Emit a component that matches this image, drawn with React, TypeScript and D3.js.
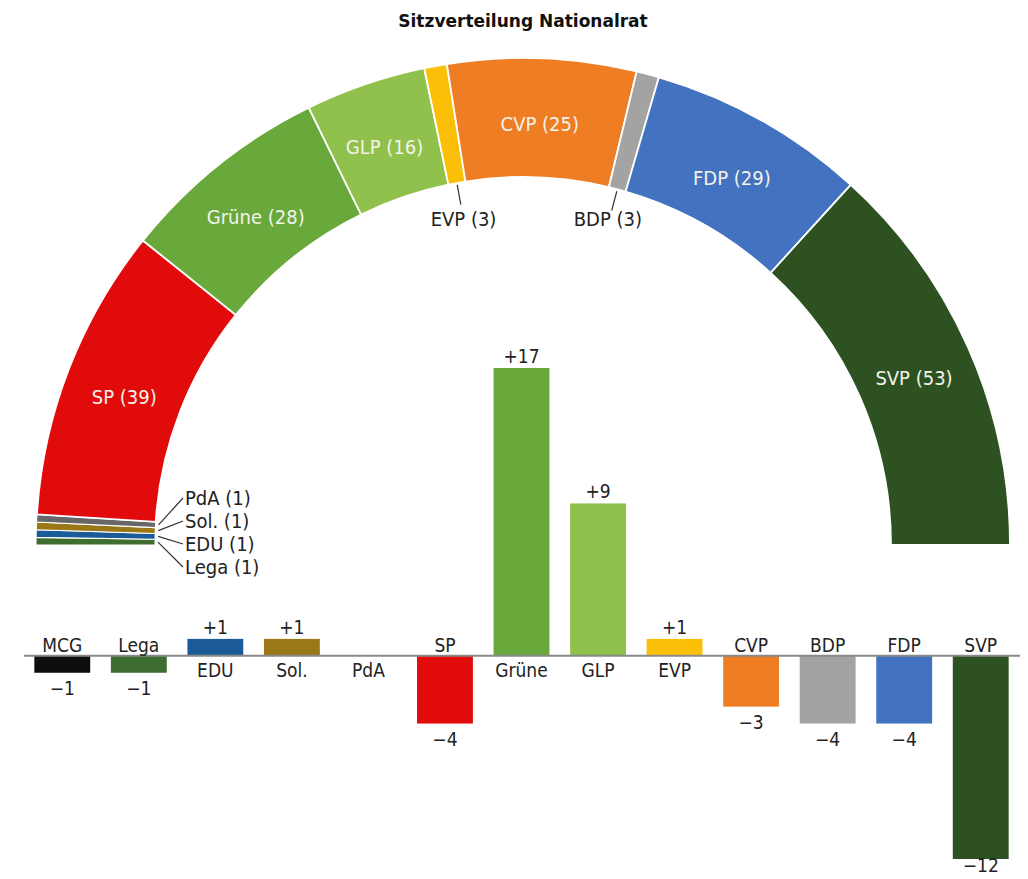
import React from 'react';
import * as d3 from 'd3';

// seat distribution, left to right around the half circle
const seatParties = ['Lega', 'EDU', 'Sol.', 'PdA', 'SP', 'Grüne', 'GLP', 'EVP', 'CVP', 'BDP', 'FDP', 'SVP'];
const seats = [1, 1, 1, 1, 39, 28, 16, 3, 25, 3, 29, 53];

// change in seats vs. previous election
const changeParties = ['MCG', 'Lega', 'EDU', 'Sol.', 'PdA', 'SP', 'Grüne', 'GLP', 'EVP', 'CVP', 'BDP', 'FDP', 'SVP'];
const changes = [-1, -1, 1, 1, 0, -4, 17, 9, 1, -3, -4, -4, -12];

const partyColors: Record<string, string> = {
  MCG: '#0e0e0e',
  Lega: '#3e6e2f',
  EDU: '#1b5c98',
  'Sol.': '#9a7818',
  PdA: '#676767',
  SP: '#e20b0c',
  'Grüne': '#69a93c',
  GLP: '#90c14c',
  EVP: '#fcbf08',
  CVP: '#ef7d24',
  BDP: '#a3a3a3',
  FDP: '#4372c0',
  SVP: '#2e5122',
};

const W = 1028;
const H = 879;
const cx = 523;
const cy = 545;
const outerR = 487;
const innerR = 368;
const font = "'Liberation Sans Narrow', 'DejaVu Sans Condensed', 'Arial Narrow', sans-serif";

const fmt = (v: number) => (v > 0 ? `+${v}` : v < 0 ? `\u2212${Math.abs(v)}` : '');

export default function App() {
  const data = seatParties.map((p, i) => ({ party: p, seats: seats[i] }));
  const pie = d3
    .pie<{ party: string; seats: number }>()
    .value((d) => d.seats)
    .sort(null)
    .startAngle(-Math.PI / 2)
    .endAngle(Math.PI / 2);
  const arcs = pie(data);
  const arc = d3
    .arc<d3.PieArcDatum<{ party: string; seats: number }>>()
    .innerRadius(innerR)
    .outerRadius(outerR);

  const mid = (a: d3.PieArcDatum<any>) => (a.startAngle + a.endAngle) / 2;
  const polar = (ang: number, r: number): [number, number] => [Math.sin(ang) * r, -Math.cos(ang) * r];

  // bar chart scales
  const x = d3.scaleBand<string>().domain(changeParties).range([24, 1019]).paddingInner(0.27).paddingOuter(0.135);
  const y = d3.scaleLinear().domain([-12, 17]).range([859, 368]);
  const y0 = y(0);

  const leftSmall = arcs.filter((a) => a.data.seats === 1);
  const midSmall = arcs.filter((a) => a.data.seats > 1 && a.data.seats < 10);
  const stackTop = 498;

  return (
    <svg width={W} height={H} style={{ position: 'absolute', left: 0, top: 0, background: '#fff' }}>
      <text x={cx} y={27} textAnchor="middle" fontFamily="'DejaVu Sans', sans-serif" fontWeight="bold" fontSize={17} fill="#111">
        Sitzverteilung Nationalrat
      </text>

      <g transform={`translate(${cx},${cy})`}>
        {arcs.map((a) => (
          <path
            key={a.data.party}
            d={arc(a) || ''}
            fill={partyColors[a.data.party]}
            stroke="#fff"
            strokeWidth={a.data.seats === 1 ? 1.1 : 1.8}
          />
        ))}
        {arcs
          .filter((a) => a.data.seats >= 10)
          .map((a) => {
            const [lx, ly] = arc.centroid(a);
            return (
              <text key={a.data.party} x={lx} y={ly + 6} textAnchor="middle" dominantBaseline="central" fontFamily={font} fontSize={20} fill="#f3f3ea">
                {`${a.data.party} (${a.data.seats})`}
              </text>
            );
          })}
        {midSmall.map((a) => {
          const m = mid(a);
          const [x1, y1] = polar(m, innerR - 2);
          const [x2, y2] = polar(m, innerR - 22);
          const [tx] = polar(m, innerR - 37);
          return (
            <g key={a.data.party}>
              <line x1={x1} y1={y1} x2={x2} y2={y2} stroke="#333" strokeWidth={1.2} />
              <text x={tx} y={219 - cy} textAnchor="middle" dominantBaseline="central" fontFamily={font} fontSize={20} fill="#222">
                {`${a.data.party} (${a.data.seats})`}
              </text>
            </g>
          );
        })}
        {leftSmall.map((a, i) => {
          const m = mid(a);
          const [x1, y1] = polar(m, innerR - 3);
          const ly = stackTop + (leftSmall.length - 1 - i) * 23 - cy;
          const lx = 183 - cx;
          return (
            <g key={a.data.party}>
              <line x1={x1} y1={y1} x2={lx} y2={ly} stroke="#333" strokeWidth={1.2} />
              <text x={lx + 2} y={ly} dominantBaseline="central" fontFamily={font} fontSize={20} fill="#222">
                {`${a.data.party} (${a.data.seats})`}
              </text>
            </g>
          );
        })}
      </g>

      <g>
        {changeParties.map((p, i) => {
          const v = changes[i];
          if (v === 0) return null;
          return (
            <rect
              key={p}
              x={x(p)}
              y={v > 0 ? y(v) : y0}
              width={x.bandwidth()}
              height={Math.abs(y(v) - y0)}
              fill={partyColors[p]}
            />
          );
        })}
        <line x1={24} x2={1020} y1={y0} y2={y0} stroke="#8a8a8a" strokeWidth={2} />
        {changeParties.map((p, i) => {
          const v = changes[i];
          const bx = (x(p) || 0) + x.bandwidth() / 2;
          const nameY = v < 0 ? y0 - 4 : y0 + 21;
          const valY = v > 0 ? y(v) - 5 : Math.min(y(v) + 22, H - 7);
          return (
            <g key={p} fontFamily={font} fontSize={19} fill="#222" textAnchor="middle">
              <text x={bx} y={nameY}>{p}</text>
              {v !== 0 && <text x={bx} y={valY}>{fmt(v)}</text>}
            </g>
          );
        })}
      </g>
    </svg>
  );
}
